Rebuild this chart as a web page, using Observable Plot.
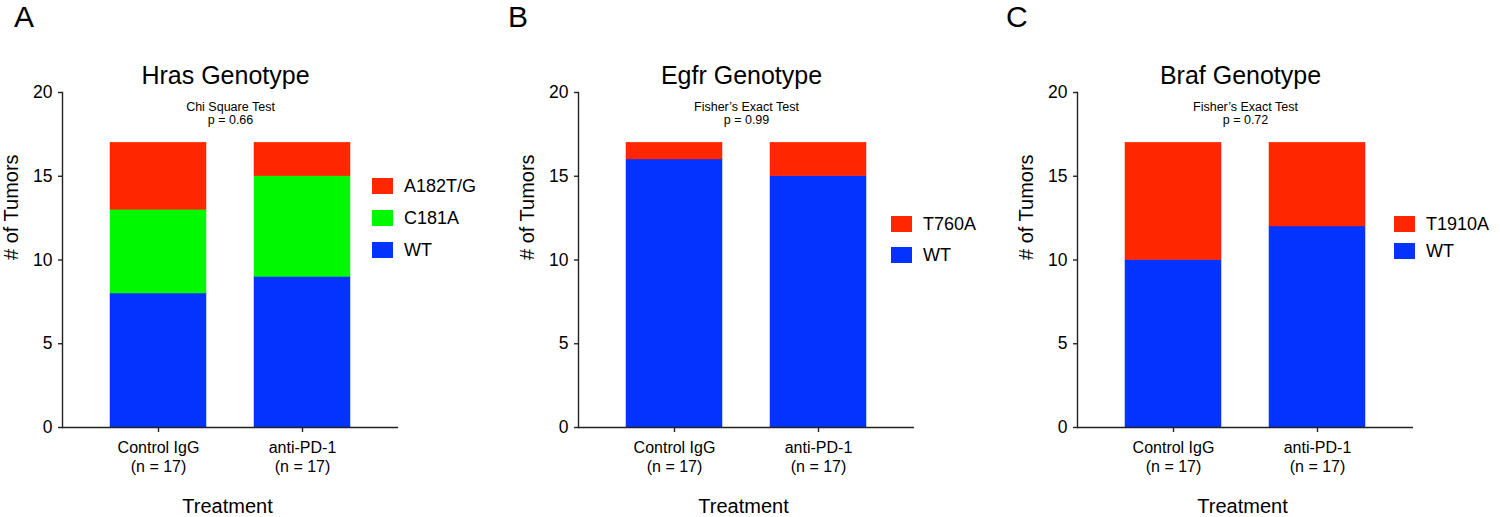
<!DOCTYPE html>
<html>
<head>
<meta charset="utf-8">
<script src="https://cdn.jsdelivr.net/npm/d3@7"></script>
<script src="https://cdn.jsdelivr.net/npm/@observablehq/plot@0.6"></script>
<style>
  html, body { margin: 0; padding: 0; background: #fff; }
  body { font-family: "Liberation Sans", Arial, Helvetica, sans-serif; }
  #root { position: relative; width: 1500px; height: 517px; overflow: hidden; }
  .panel { position: absolute; top: 0; }
  .letter { position: absolute; font-size: 30px; line-height: 30px; color: #000; }
  .leg { position: absolute; display: flex; align-items: center; font-size: 18px; line-height: 16px; color: #000; }
  .sw { width: 21px; height: 16px; margin-right: 11px; flex: none; }
</style>
</head>
<body>
<div id="root"></div>
<script>
// ---- data ----
const treatments = ["Control IgG", "anti-PD-1"];
const sampleSizes = [17, 17];

const hrasGenotypes = ["WT", "C181A", "A182T/G"];
const hrasWT = [8, 9];
const hrasC181A = [5, 6];
const hrasA182TG = [4, 2];

const egfrGenotypes = ["WT", "T760A"];
const egfrWT = [16, 15];
const egfrT760A = [1, 2];

const brafGenotypes = ["WT", "T1910A"];
const brafWT = [10, 12];
const brafT1910A = [7, 5];

const yTicks = [0, 5, 10, 15, 20];

const colorOf = {"WT": "#0433FF", "C181A": "#00F900", "A182T/G": "#FF2600", "T760A": "#FF2600", "T1910A": "#FF2600"};

const panels = [
  {letter: "A", title: "Hras Genotype", sub: "Chi Square Test\np = 0.66",
   genotypes: hrasGenotypes, series: [hrasWT, hrasC181A, hrasA182TG],
   legendOrder: ["A182T/G", "C181A", "WT"],
   left: 0, width: 500, letterLeft: 14,
   legendLeft: 372, legendTops: [178, 210, 242]},
  {letter: "B", title: "Egfr Genotype", sub: "Fisher\u2019s Exact Test\np = 0.99",
   genotypes: egfrGenotypes, series: [egfrWT, egfrT760A],
   legendOrder: ["T760A", "WT"],
   left: 516, width: 484, letterLeft: 508,
   legendLeft: 891, legendTops: [216, 247]},
  {letter: "C", title: "Braf Genotype", sub: "Fisher\u2019s Exact Test\np = 0.72",
   genotypes: brafGenotypes, series: [brafWT, brafT1910A],
   legendOrder: ["T1910A", "WT"],
   left: 1015, width: 485, letterLeft: 1006,
   legendLeft: 1394, legendTops: [216, 243]}
];

const root = document.getElementById("root");
const FONT = "Liberation Sans, Arial, Helvetica, sans-serif";
const AX = "#222";

for (const p of panels) {
  const rows = [];
  p.genotypes.forEach((g, gi) => {
    treatments.forEach((t, ti) => rows.push({treatment: t, genotype: g, count: p.series[gi][ti]}));
  });
  const nOf = Object.fromEntries(treatments.map((t, i) => [t, sampleSizes[i]]));
  const marginLeft = 62, marginTop = 92, marginBottom = 90;
  const marginRight = p.width - marginLeft - 336;

  const chart = Plot.plot({
    width: p.width,
    height: 517,
    marginLeft, marginRight, marginTop, marginBottom,
    style: {fontFamily: FONT, color: "#000", background: "transparent", overflow: "visible"},
    x: {domain: treatments, padding: 1/3, label: null},
    y: {domain: [0, 20], label: null},
    color: {domain: p.genotypes, range: p.genotypes.map(g => colorOf[g])},
    marks: [
      Plot.barY(rows, {x: "treatment", y: "count", fill: "genotype", stroke: "genotype", strokeWidth: 0.5, order: p.genotypes}),
      Plot.frame({anchor: "left", stroke: AX, strokeWidth: 1.4}),
      Plot.ruleY([0], {stroke: AX, strokeWidth: 1.4}),
      Plot.axisY({ticks: yTicks, tickSize: 4, tickPadding: 6, fontSize: 17.5, stroke: AX, strokeWidth: 1.4, label: null}),
      Plot.axisX({tickSize: 5, tickPadding: 7, fontSize: 16, lineHeight: 1.2, stroke: AX, strokeWidth: 1.4,
                  tickFormat: t => `${t}\n(n = ${nOf[t]})`, label: null}),
      Plot.text([p.title], {frameAnchor: "top", dy: -17, dx: -5, fontSize: 25, lineAnchor: "middle", fill: "#000"}),
      Plot.text([p.sub], {frameAnchor: "top", dy: 20.5, fontSize: 12.5, lineHeight: 1.04, lineAnchor: "middle", fill: "#000"}),
      Plot.text(["Treatment"], {frameAnchor: "bottom", dy: 79, dx: -3, fontSize: 20, lineAnchor: "middle", fill: "#000"}),
      Plot.text(["# of Tumors"], {frameAnchor: "left", dx: -51, rotate: -90, fontSize: 20, lineAnchor: "middle", fill: "#000"})
    ]
  });
  const wrap = document.createElement("div");
  wrap.className = "panel";
  wrap.style.left = p.left + "px";
  wrap.appendChild(chart);
  root.appendChild(wrap);

  const letter = document.createElement("div");
  letter.className = "letter";
  letter.style.left = p.letterLeft + "px";
  letter.style.top = "2px";
  letter.textContent = p.letter;
  root.appendChild(letter);

  p.legendOrder.forEach((g, i) => {
    const item = document.createElement("div");
    item.className = "leg";
    item.style.left = p.legendLeft + "px";
    item.style.top = p.legendTops[i] + "px";
    const sw = document.createElement("div");
    sw.className = "sw";
    sw.style.background = colorOf[g];
    const lab = document.createElement("span");
    lab.textContent = g;
    item.appendChild(sw);
    item.appendChild(lab);
    root.appendChild(item);
  });
}
</script>
</body>
</html>
